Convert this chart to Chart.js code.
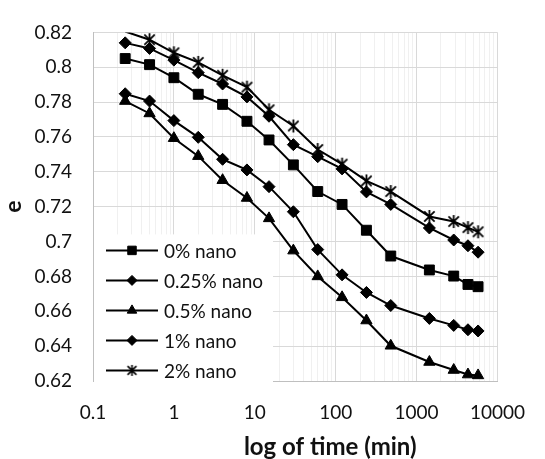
<!DOCTYPE html>
<html>
<head>
<meta charset="utf-8">
<script src="https://cdn.jsdelivr.net/npm/chart.js"></script>
<style>
  body { margin: 0; background: #fff; }
</style>
</head>
<body>
<canvas id="myChart" width="545" height="459"></canvas>
<script>
// time in minutes, void ratio e per mix
const times = [0.25, 0.5, 1, 2, 4, 8, 15, 30, 60, 120, 240, 480, 1440, 2880, 4320, 5760];
const nano0 = [0.805, 0.8015, 0.794, 0.7845, 0.7787, 0.769, 0.7583, 0.744, 0.7287, 0.7213, 0.7065, 0.6917, 0.6837, 0.6802, 0.6754, 0.6741];
const nano025 = [0.814, 0.8108, 0.8041, 0.7969, 0.7904, 0.783, 0.7719, 0.7556, 0.7487, 0.7417, 0.7285, 0.7213, 0.7078, 0.7009, 0.6976, 0.6939];
const nano05 = [0.7806, 0.7735, 0.7593, 0.749, 0.7352, 0.725, 0.7133, 0.6948, 0.68, 0.668, 0.6547, 0.6402, 0.6309, 0.6263, 0.6237, 0.6232];
const nano1 = [0.7848, 0.7806, 0.7694, 0.7598, 0.7472, 0.7411, 0.7315, 0.7171, 0.6954, 0.6809, 0.6708, 0.6633, 0.6559, 0.6519, 0.6494, 0.6487];
const nano2 = [0.8205, 0.8158, 0.8083, 0.8028, 0.7954, 0.7886, 0.7756, 0.7663, 0.7528, 0.7444, 0.7348, 0.7287, 0.7144, 0.7115, 0.708, 0.7056];
const seriesNames = ['0% nano', '0.25% nano', '0.5% nano', '1% nano', '2% nano'];
const xTicks = [0.1, 1, 10, 100, 1000, 10000];
const yTicks = [0.62, 0.64, 0.66, 0.68, 0.7, 0.72, 0.74, 0.76, 0.78, 0.8, 0.82];

Chart.defaults.font.family = 'Lato';
Chart.defaults.color = '#111';

function makeStar(size, lw) {
  const c = document.createElement('canvas');
  c.width = size;
  c.height = size;
  const g = c.getContext('2d');
  g.strokeStyle = '#000';
  g.lineWidth = lw;
  const m = size / 2, r = size / 2 - 1, d = r * 0.8;
  g.beginPath();
  g.moveTo(m, m - r); g.lineTo(m, m + r);
  g.moveTo(m - d, m - d); g.lineTo(m + d, m + d);
  g.moveTo(m - d, m + d); g.lineTo(m + d, m - d);
  g.stroke();
  return c;
}
const star = makeStar(15, 1.8);
const starSmall = makeStar(13, 1.6);

const values = [nano0, nano025, nano05, nano1, nano2];
const styles = ['rect', 'rectRot', 'triangle', 'rectRot', star];
const radii = [7, 6, 6.5, 6, 7];
const legendStyles = ['rect', 'rectRot', 'triangle', 'rectRot', starSmall];
const legendRadii = [6, 5, 5.5, 5, 6];

const datasets = values.map((vals, i) => ({
  label: seriesNames[i],
  data: vals.map((v, j) => ({ x: times[j], y: v })),
  borderColor: '#000',
  backgroundColor: '#000',
  borderWidth: 2,
  pointStyle: styles[i],
  pointRadius: ctx => (ctx.raw && ctx.raw.y > 0.82 ? 0 : radii[i]),
  pointBackgroundColor: '#000',
  pointBorderColor: '#000',
  pointBorderWidth: 1,
  tension: 0,
  clip: 0
}));

const legendBox = {
  id: 'legendBox',
  afterDatasetsDraw(chart) {
    const { ctx, chartArea } = chart;
    const left = chartArea.left + 1, top = chartArea.top + 202;
    ctx.save();
    ctx.fillStyle = '#fff';
    ctx.fillRect(left, top, 179, 149);
    ctx.font = '19px Lato';
    ctx.textBaseline = 'middle';
    ctx.textAlign = 'left';
    seriesNames.forEach((name, i) => {
      const y = top + 16 + i * 30;
      ctx.strokeStyle = '#000';
      ctx.fillStyle = '#000';
      ctx.lineWidth = 2;
      ctx.beginPath();
      ctx.moveTo(left + 12, y);
      ctx.lineTo(left + 64, y);
      ctx.stroke();
      ctx.lineWidth = 1;
      Chart.helpers.drawPoint(ctx, { pointStyle: legendStyles[i], rotation: 0, radius: legendRadii[i], borderWidth: 1 }, left + 38, y);
      ctx.fillStyle = '#111';
      ctx.fillText(name, left + 70, y + 1);
    });
    ctx.restore();
  }
};

const xTitle = {
  id: 'xTitle',
  afterDraw(chart) {
    const { ctx, chartArea } = chart;
    ctx.save();
    ctx.font = 'bold 24px Lato';
    ctx.fillStyle = '#111';
    ctx.textAlign = 'center';
    ctx.textBaseline = 'alphabetic';
    ctx.fillText('log of time (min)', (chartArea.left + chartArea.right) / 2 + 35, 455);
    ctx.restore();
  }
};

const isMajor = v => xTicks.includes(v);

new Chart(document.getElementById('myChart'), {
  type: 'line',
  data: { datasets: datasets },
  options: {
    responsive: false,
    animation: false,
    layout: { padding: { top: 21, right: 27, left: 0, bottom: 0 } },
    plugins: {
      legend: { display: false },
      tooltip: { enabled: false }
    },
    scales: {
      x: {
        type: 'logarithmic',
        min: 0.1,
        max: 10000,
        afterBuildTicks: scale => {
          const t = [];
          for (let e = -1; e < 4; e++) {
            for (let m = 1; m < 10; m++) t.push({ value: Number((m * Math.pow(10, e)).toPrecision(2)) });
          }
          t.push({ value: 10000 });
          scale.ticks = t;
        },
        ticks: {
          autoSkip: false,
          maxRotation: 0,
          padding: 20,
          font: { size: 19 },
          callback: v => (isMajor(v) ? String(v) : '')
        },
        grid: {
          drawTicks: false,
          color: ctx => (ctx.tick && isMajor(ctx.tick.value) ? '#d9d9d9' : '#f0f0f0')
        },
        border: { color: '#bfbfbf' },
        afterFit: s => { s.height = 78; }
      },
      y: {
        min: 0.62,
        max: 0.82,
        afterBuildTicks: scale => { scale.ticks = yTicks.map(v => ({ value: v })); },
        ticks: {
          padding: 21,
          font: { size: 19 },
          callback: v => String(parseFloat(v.toFixed(2)))
        },
        grid: { drawTicks: false, color: '#d9d9d9' },
        border: { color: '#bfbfbf' },
        title: {
          display: true,
          text: 'e',
          font: { size: 23, weight: 'bold' },
          color: '#111',
          padding: { top: 0, bottom: 0 }
        },
        afterFit: s => { s.width = 93; }
      }
    }
  },
  plugins: [legendBox, xTitle]
});
</script>
</body>
</html>
